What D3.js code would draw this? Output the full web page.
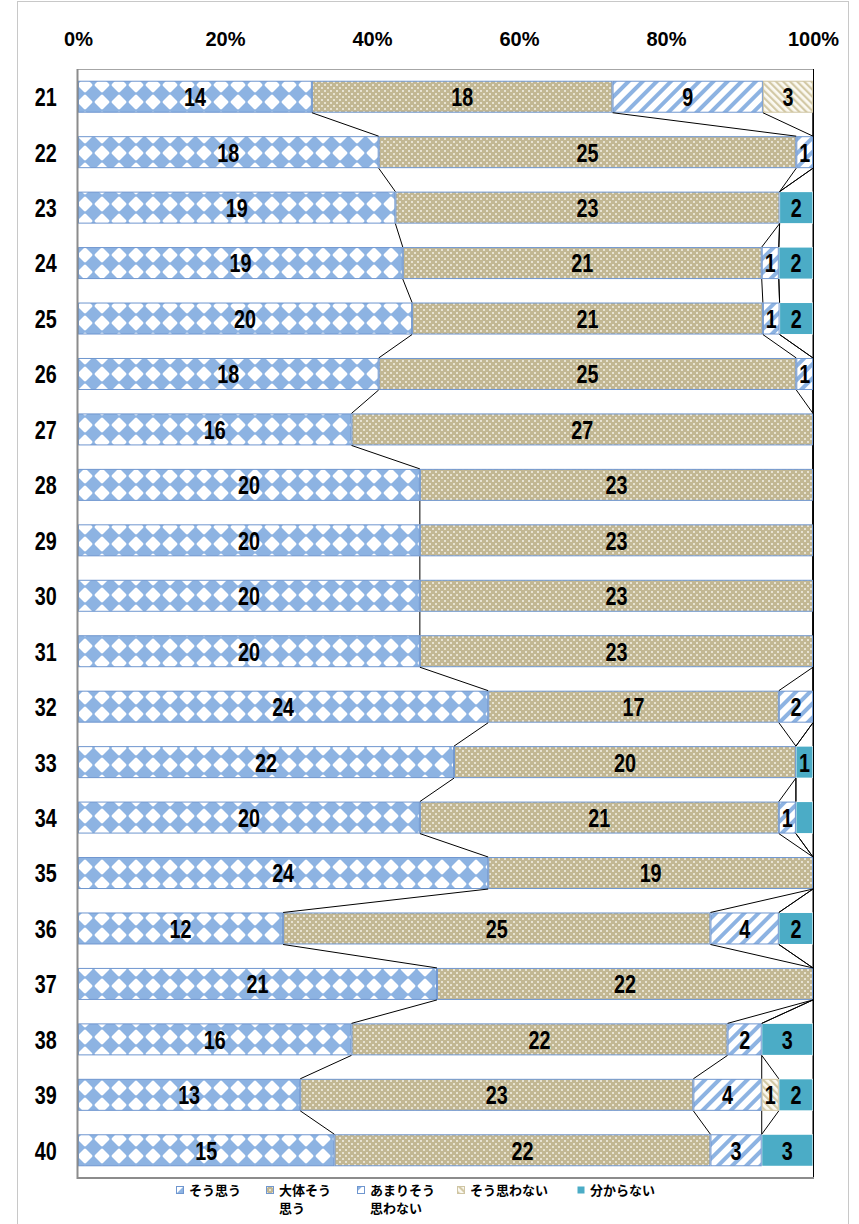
<!DOCTYPE html>
<html><head><meta charset="utf-8">
<script src="https://cdn.jsdelivr.net/npm/d3@7"></script>
<style>body{margin:0;background:#fff}svg{display:block}</style>
</head><body><svg id="c" width="859" height="1224"></svg>
<script>
const categories = ["21","22","23","24","25","26","27","28","29","30","31","32","33","34","35","36","37","38","39","40"];
const seriesNames = ["そう思う","大体そう思う","あまりそう思わない","そう思わない","分からない"];
const legendLines = [["そう思う"],["大体そう","思う"],["あまりそう","思わない"],["そう思わない"],["分からない"]];
const soOmou    = [14,18,19,19,20,18,16,20,20,20,20,24,22,20,24,12,21,16,13,15];
const daitai    = [18,25,23,21,21,25,27,23,23,23,23,17,20,21,19,25,22,22,23,22];
const amari     = [9,1,0,1,1,1,0,0,0,0,0,2,0,1,0,4,0,2,4,3];
const omowanai  = [3,0,0,0,0,0,0,0,0,0,0,0,0,0,0,0,0,0,1,0];
const wakaranai = [0,0,2,2,2,0,0,0,0,0,0,0,1,1,0,2,0,3,2,3];
const hiddenLabels = [["34","分からない"]];
const tickValues = [0,0.2,0.4,0.6,0.8,1];
const tickLabels = ["0%","20%","40%","60%","80%","100%"];

const seriesValues = [soOmou, daitai, amari, omowanai, wakaranai];
const rows = categories.map((c,i)=>{
  const o = {cat:c};
  seriesNames.forEach((s,k)=>o[s]=seriesValues[k][i]);
  return o;
});

const svg = d3.select("#c");
const L=78,R=813,T=69,B=1178;
const x = d3.scaleLinear().domain([0,1]).range([L,R]);
const y = d3.scaleBand().domain(categories).range([T,B]).paddingInner(0.423).paddingOuter(0.2115);
const bw = y.bandwidth();
const NUMFONT = "'Liberation Sans',Arial,sans-serif";
const SX = 0.76;

// patterns
const defs = svg.append("defs");
const blue="#8db3e2", tan="#c2b793", teal="#4bacc6";
let p = defs.append("pattern").attr("id","p0").attr("patternUnits","userSpaceOnUse").attr("width",17).attr("height",17);
p.append("rect").attr("width",17).attr("height",17).attr("fill","#fff");
p.append("path").attr("d","M8.5,-0.5 L17.5,8.5 L8.5,17.5 L-0.5,8.5Z").attr("fill",blue);
p.append("rect").attr("x",7.5).attr("y",-1).attr("width",2).attr("height",19).attr("fill",blue);
p.append("rect").attr("x",-1).attr("y",7.5).attr("width",19).attr("height",2).attr("fill",blue);
p = defs.append("pattern").attr("id","p1").attr("patternUnits","userSpaceOnUse").attr("width",6).attr("height",6);
p.append("rect").attr("width",6).attr("height",6).attr("fill",tan);
p.append("rect").attr("x",0).attr("y",0.5).attr("width",2).attr("height",1).attr("fill","#fff");
p.append("rect").attr("x",0.5).attr("y",0).attr("width",1).attr("height",2).attr("fill","#eeeadb");
p.append("rect").attr("x",3).attr("y",3.5).attr("width",2).attr("height",1).attr("fill","#fff");
p.append("rect").attr("x",3.5).attr("y",3).attr("width",1).attr("height",2).attr("fill","#eeeadb");
p = defs.append("pattern").attr("id","p2").attr("patternUnits","userSpaceOnUse").attr("width",10).attr("height",10).attr("patternTransform","rotate(45)");
p.append("rect").attr("width",10).attr("height",10).attr("fill","#fff");
p.append("rect").attr("width",4).attr("height",10).attr("fill",blue);
p = defs.append("pattern").attr("id","p3").attr("patternUnits","userSpaceOnUse").attr("width",5).attr("height",5).attr("patternTransform","rotate(-45)");
p.append("rect").attr("width",5).attr("height",5).attr("fill","#fbf9f2");
p.append("rect").attr("width",2.2).attr("height",5).attr("fill","#d3c9a6");
const fills = ["url(#p0)","url(#p1)","url(#p2)","url(#p3)",teal];
const strokes = ["#6f96cf","#6f96cf","#6f96cf","#cfc5a3","none"];

// chart border
svg.append("rect").attr("x",17.5).attr("y",1.5).attr("width",831).attr("height",1240).attr("fill","none").attr("stroke","#c8c8c8");

const stack = d3.stack().keys(seriesNames).offset(d3.stackOffsetExpand);
const series = stack(rows);

// plot frame
svg.append("line").attr("x1",L).attr("x2",R).attr("y1",T+0.5).attr("y2",T+0.5).attr("stroke","#a6a6a6");
svg.append("line").attr("x1",R+0.5).attr("x2",R+0.5).attr("y1",T).attr("y2",B).attr("stroke","#000").attr("stroke-width",1);

// bars
const gBars = svg.append("g");
series.forEach((s,k)=>{
  gBars.append("g").selectAll("rect").data(s.filter(d=>d[1]-d[0]>0)).join("rect")
    .attr("x",d=>x(d[0])+0.5).attr("y",d=>y(d.data.cat)+0.5)
    .attr("width",d=>Math.max(0,x(d[1])-x(d[0])-1)).attr("height",bw-1)
    .attr("fill",fills[k]).attr("stroke",strokes[k]).attr("stroke-width",1);
});

// series lines
const gLines = svg.append("g").attr("stroke","#000").attr("stroke-width",1).attr("fill","none");
series.forEach((s,k)=>{
  for(let i=0;i<categories.length-1;i++){
    gLines.append("line")
      .attr("x1",x(s[i][1])).attr("y1",y(categories[i])+bw)
      .attr("x2",x(s[i+1][1])).attr("y2",y(categories[i+1]));
  }
});

// data labels
const hidden = new Set(hiddenLabels.map(h=>h[0]+"|"+h[1]));
const gLab = svg.append("g").attr("font-family",NUMFONT)
  .attr("font-weight","bold").attr("font-size",26).attr("text-anchor","middle").attr("fill","#000");
series.forEach((s,k)=>{
  s.forEach((d,i)=>{
    const v = seriesValues[k][i];
    if(!v || hidden.has(categories[i]+"|"+seriesNames[k])) return;
    gLab.append("text")
      .attr("transform",`translate(${x((d[0]+d[1])/2)},${y(categories[i])+bw/2}) scale(${SX},1)`)
      .attr("dy","0.36em").text(v);
  });
});

// axes
const gx = svg.append("g").attr("transform","translate(0,46)")
  .call(d3.axisTop(x).tickValues(tickValues).tickFormat((d,i)=>tickLabels[i]).tickSize(0).tickPadding(0));
gx.select(".domain").remove();
gx.selectAll("text").attr("font-family",NUMFONT).attr("font-weight","bold").attr("font-size",20).attr("fill","#000");

const gy = svg.append("g").attr("transform",`translate(${L},0)`)
  .call(d3.axisLeft(y).tickSize(0).tickPadding(28));
gy.select(".domain").remove();
gy.selectAll("text").attr("font-family",NUMFONT).attr("font-weight","bold").attr("font-size",26)
  .attr("fill","#000").attr("dy","0.36em").attr("transform",`scale(${SX},1)`);

svg.append("line").attr("x1",L-0.5).attr("x2",L-0.5).attr("y1",T).attr("y2",B+1).attr("stroke","#8c8c8c").attr("stroke-width",2);
svg.append("line").attr("x1",L-1).attr("x2",R+1).attr("y1",B).attr("y2",B).attr("stroke","#8c8c8c").attr("stroke-width",2);

// legend
const legX = [176,266,357,457,577];
const gLeg = svg.append("g").attr("font-family","'Noto Sans CJK JP',sans-serif").attr("font-weight","bold").attr("font-size",13);
seriesNames.forEach((s,k)=>{
  const g = gLeg.append("g").attr("transform",`translate(${legX[k]},1186)`);
  g.append("rect").attr("x",0.5).attr("y",0.5).attr("width",7).attr("height",7)
    .attr("fill",fills[k]).attr("stroke",strokes[k]==="none"?"none":strokes[k]);
  legendLines[k].forEach((t,j)=>{
    g.append("text").attr("x",13).attr("y",9+j*18).text(t);
  });
});
</script></body></html>
